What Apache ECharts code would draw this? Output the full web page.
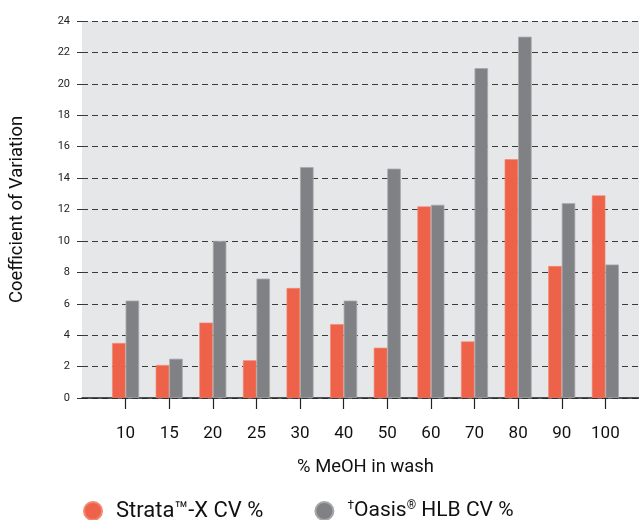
<!DOCTYPE html>
<html>
<head>
<meta charset="utf-8">
<script src="https://cdn.jsdelivr.net/npm/echarts@6/dist/echarts.min.js"></script>
<style>
html,body{margin:0;padding:0;background:#fff;}
#c{width:639px;height:520px;}
</style>
</head>
<body>
<div id="c"></div>
<script>
var categories = ['', '10', '15', '20', '25', '30', '40', '50', '60', '70', '80', '90', '100', ''];
var strataCV = [null, 3.5, 2.1, 4.8, 2.4, 7.0, 4.7, 3.2, 12.2, 3.6, 15.2, 8.4, 12.9, null];
var oasisCV = [null, 6.2, 2.5, 10.0, 7.6, 14.7, 6.2, 14.6, 12.3, 21.0, 23.0, 12.4, 8.5, null];
var seriesNames = ['Strata\u2122-X CV %', '\u2020Oasis\u00AE HLB CV %'];
var yTitle = 'Coefficient of Variation';
var xTitle = '% MeOH in wash';

var FONT = "'Roboto', sans-serif";
var chart = echarts.init(document.getElementById('c'));
chart.setOption({
  animation: false,
  textStyle: { fontFamily: FONT },
  grid: { left: 82, right: -10, top: 21, bottom: 122, show: true, backgroundColor: '#e6e7e8', borderWidth: 0,
          outerBoundsMode: 'none', containLabel: false },
  legend: {
    left: 83, top: 500, padding: 0,
    icon: 'circle', itemWidth: 18, itemHeight: 18, itemGap: 51,
    data: seriesNames,
    formatter: function (n) {
      if (n.charAt(0) === '\u2020') {
        return '{sup|\u2020}{o|Oasis}{sup|\u00AE}{o| HLB CV %}';
      }
      return '{t|' + n + '}';
    },
    textStyle: {
      fontFamily: FONT, color: '#111', padding: [0, 0, 0, 9],
      rich: {
        t: { fontSize: 22, fontFamily: FONT, color: '#111', lineHeight: 22 },
        o: { fontSize: 21, fontFamily: FONT, color: '#111', lineHeight: 22 },
        sup: { fontSize: 12, fontFamily: FONT, color: '#111', lineHeight: 22, verticalAlign: 'top', padding: [0, 0, 4, 0] }
      }
    }
  },
  xAxis: {
    type: 'category',
    data: categories,
    boundaryGap: false,
    name: xTitle,
    nameLocation: 'middle',
    nameGap: 60,
    nameTextStyle: { fontSize: 18.4, color: '#111', fontFamily: FONT },
    axisLine: { lineStyle: { color: '#222', width: 1.5 } },
    axisTick: {
      length: 11,
      lineStyle: { color: '#222', width: 1.2 },
      interval: function (idx) { return idx > 0 && idx < categories.length - 1; }
    },
    axisLabel: { fontSize: 17, color: '#111', margin: 27, fontFamily: FONT,
      interval: function (idx) { return idx > 0 && idx < categories.length - 1; } },
    splitLine: { show: false }
  },
  yAxis: {
    type: 'value',
    min: 0, max: 24, interval: 2,
    name: yTitle,
    nameLocation: 'middle',
    nameGap: 56,
    nameTextStyle: { fontSize: 18.4, color: '#111', fontFamily: FONT },
    axisLine: { show: false },
    axisTick: { show: true, length: 5, lineStyle: { color: '#333' } },
    axisLabel: { fontSize: 11, color: '#222', margin: 12, fontFamily: FONT },
    splitLine: { show: true, lineStyle: { color: '#3a3a3a', width: 1, type: [6, 4] } }
  },
  series: [
    {
      name: seriesNames[0], type: 'bar', data: strataCV,
      barWidth: 13.5, barGap: '0%',
      itemStyle: { color: '#ee624a', borderColor: '#f18873', borderWidth: 0.6 }
    },
    {
      name: seriesNames[1], type: 'bar', data: oasisCV,
      barWidth: 13.5, barGap: '0%',
      itemStyle: { color: '#808184', borderColor: '#a7a8aa', borderWidth: 0.8 }
    }
  ]
});
</script>
</body>
</html>
